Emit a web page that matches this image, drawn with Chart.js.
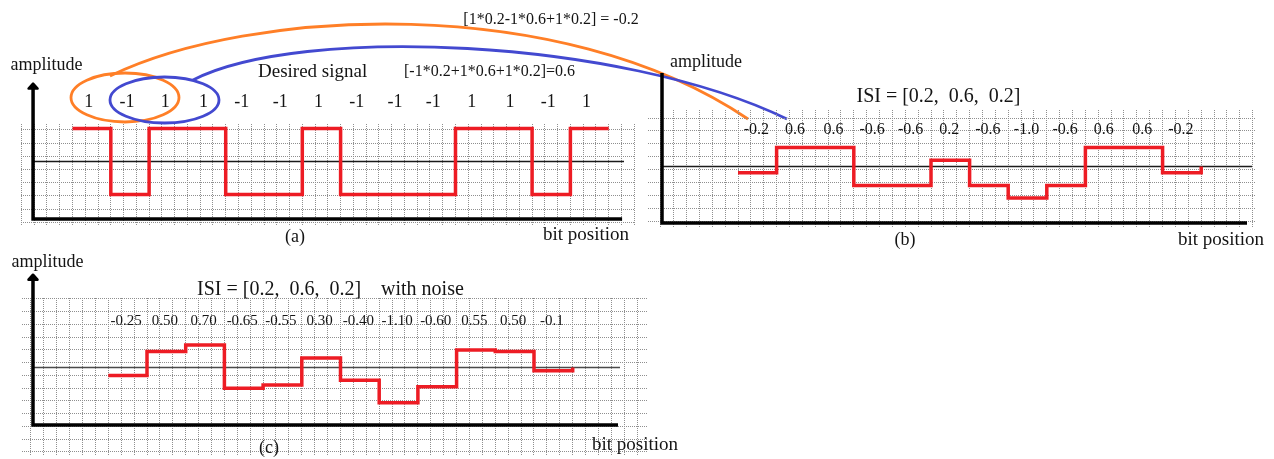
<!DOCTYPE html>
<html>
<head>
<meta charset="utf-8">
<title>ISI example</title>
<script src="https://cdn.jsdelivr.net/npm/chart.js@4.4.1/dist/chart.umd.min.js"></script>
<style>
  html, body { margin: 0; padding: 0; background: #fff; }
  #wrap { position: relative; width: 1274px; height: 459px; overflow: hidden; }
  #wrap canvas { position: absolute; left: 0; top: 0; }
</style>
</head>
<body>
<div id="wrap">
  <canvas id="chart-a" width="1274" height="459"></canvas>
  <canvas id="chart-b" width="1274" height="459"></canvas>
  <canvas id="chart-c" width="1274" height="459"></canvas>
</div>
<script>
// Values
const desiredBits = [1, -1, 1, 1, -1, -1, 1, -1, -1, -1, 1, 1, -1, 1];
const desiredLabels = ['1', '-1', '1', '1', '-1', '-1', '1', '-1', '-1', '-1', '1', '1', '-1', '1'];
const desiredEnd = 1;

const isiTaps = [0.2, 0.6, 0.2];
const isiValues = [-0.2, 0.6, 0.6, -0.6, -0.6, 0.2, -0.6, -1.0, -0.6, 0.6, 0.6, -0.2];
const isiLabels = ['-0.2', '0.6', '0.6', '-0.6', '-0.6', '0.2', '-0.6', '-1.0', '-0.6', '0.6', '0.6', '-0.2'];
const isiEnd = 0;

const noisyValues = [-0.25, 0.50, 0.70, -0.65, -0.55, 0.30, -0.40, -1.10, -0.60, 0.55, 0.50, -0.1];
const noisyLabels = ['-0.25', '0.50', '0.70', '-0.65', '-0.55', '0.30', '-0.40', '-1.10', '-0.60', '0.55', '0.50', '-0.1'];
const noisyEnd = 0;

const eqMinus = '[1*0.2-1*0.6+1*0.2] = -0.2';
const eqPlus = '[-1*0.2+1*0.6+1*0.2]=0.6';

const RED = '#ed1c24';
const GRID = '#8f8f8f';
const INK = '#141414';
const FONT = '"Liberation Serif", "Times New Roman", serif';

const isiTitle = 'ISI = [' + isiTaps.map(v => v.toFixed(1)).join(',  ') + ']';

// one step point per bit, plus the closing point
function stepPoints(values, endValue) {
    const pts = values.map((v, i) => ({ x: i, y: v }));
    pts.push({ x: values.length, y: endValue });
    return pts;
}

function gridTicks(min, max, start, step) {
    const out = [];
    for (let v = start; v >= min - 1e-9; v -= step) {
        if (v <= max + 1e-9) out.push(v);
    }
    return out;
}

const panels = [
    {
        id: 'chart-a',
        values: desiredBits, labels: desiredLabels, end: desiredEnd,
        area: { left: 21, top: 124, right: 635, bottom: 226 },
        x: { min: -1.345, max: 14.687 },
        y: { min: -1.955, max: 1.136, gridStart: 0.955, gridStep: 0.4 },
        axis: { x0: -1.03, y0: -1.74, x1: 14.35, y1: 2.36, arrow: true },
        zero: { from: -1.03, to: 14.4, color: '#1a1a1a' },
        label: { y: 102, size: 18, shift: -3 },
        texts: [
            ['amplitude', 46.5, 65, 18, 'center'],
            ['Desired signal', 258, 72, 19, 'left'],
            [eqPlus, 489.5, 72, 16, 'center'],
            [eqMinus, 551, 20, 16, 'center'],
            ['(a)', 295, 237, 18, 'center'],
            ['bit position', 543, 235, 19, 'left']
        ],
        links: true
    },
    {
        id: 'chart-b',
        values: isiValues, labels: isiLabels, end: isiEnd,
        area: { left: 648, top: 110, right: 1256, bottom: 228 },
        x: { min: -2.332, max: 13.42 },
        y: { min: -1.952, max: 1.794, gridStart: 1.54, gridStep: 0.4095 },
        axis: { x0: -1.969, y0: -1.794, x1: 13.187, y1: 2.968, arrow: false },
        zero: { from: -1.969, to: 13.316, color: '#1a1a1a' },
        label: { y: 130, size: 16, shift: -1 },
        texts: [
            ['amplitude', 706, 62, 18, 'center'],
            [isiTitle, 938.5, 96.5, 20, 'center'],
            ['(b)', 905, 240, 18, 'center'],
            ['bit position', 1178, 240, 19, 'left']
        ]
    },
    {
        id: 'chart-c',
        values: noisyValues, labels: noisyLabels, end: noisyEnd,
        area: { left: 22, top: 298, right: 647, bottom: 455 },
        x: { min: -2.23, max: 13.92 },
        y: { min: -2.734, max: 2.172, gridStart: 2.141, gridStep: 0.398 },
        axis: { x0: -1.946, y0: -1.797, x1: 13.171, y1: 2.9, arrow: true },
        zero: { from: -1.946, to: 13.222, color: '#4a4a4a' },
        label: { y: 321, size: 15, shift: -1.5 },
        texts: [
            ['amplitude', 47.5, 262, 18, 'center'],
            [isiTitle + '    with noise', 197, 290, 20, 'left'],
            ['(c)', 269, 448, 18, 'center'],
            ['bit position', 592, 445, 19, 'left']
        ]
    }
];

// ellipses round the bit groups and the curves to the ISI values
const links = [
    { color: '#ff7f27', ellipse: [125, 97.5, 54, 24.5], curve: [[110, 76], [250, 8], [560, -8], [748, 119]] },
    { color: '#4349d0', ellipse: [164.5, 100, 54.5, 23], curve: [[193, 80], [300, 25], [620, 38], [787, 119]] }
];

function makeDecor(p) {
    return {
        id: 'decor-' + p.id,
        afterDatasetsDraw(chart) {
            const ctx = chart.ctx;
            const xs = chart.scales.x;
            const ys = chart.scales.y;
            ctx.save();

            // thick axes
            const ax = xs.getPixelForValue(p.axis.x0);
            const ay = ys.getPixelForValue(p.axis.y0);
            const top = ys.getPixelForValue(p.axis.y1);
            const right = xs.getPixelForValue(p.axis.x1);
            ctx.strokeStyle = '#000';
            ctx.fillStyle = '#000';
            ctx.lineWidth = 3.5;
            ctx.lineCap = 'butt';
            ctx.beginPath();
            ctx.moveTo(ax, ay + 1.75);
            ctx.lineTo(ax, top + (p.axis.arrow ? 3 : 0));
            ctx.moveTo(ax - 1.75, ay);
            ctx.lineTo(right, ay);
            ctx.stroke();
            if (p.axis.arrow) {
                ctx.lineJoin = 'round';
                ctx.lineWidth = 2.5;
                ctx.beginPath();
                ctx.moveTo(ax - 4.5, top + 5);
                ctx.lineTo(ax, top);
                ctx.lineTo(ax + 4.5, top + 5);
                ctx.closePath();
                ctx.fill();
                ctx.stroke();
            }

            // value labels over each bit
            ctx.fillStyle = INK;
            ctx.textAlign = 'center';
            ctx.textBaseline = 'middle';
            ctx.font = p.label.size + 'px ' + FONT;
            p.labels.forEach((t, i) => {
                ctx.fillText(t, xs.getPixelForValue(i + 0.5) + p.label.shift, p.label.y);
            });

            // other texts
            p.texts.forEach(([t, x, y, size, align]) => {
                ctx.font = size + 'px ' + FONT;
                ctx.textAlign = align;
                ctx.fillText(t, x, y);
            });

            if (p.links) {
                ctx.lineWidth = 2.8;
                links.forEach(l => {
                    ctx.strokeStyle = l.color;
                    const [cx, cy, rx, ry] = l.ellipse;
                    ctx.beginPath();
                    ctx.ellipse(cx, cy, rx, ry, 0, 0, Math.PI * 2);
                    ctx.stroke();
                    const c = l.curve;
                    ctx.beginPath();
                    ctx.moveTo(c[0][0], c[0][1]);
                    ctx.bezierCurveTo(c[1][0], c[1][1], c[2][0], c[2][1], c[3][0], c[3][1]);
                    ctx.stroke();
                });
            }
            ctx.restore();
        }
    };
}

const charts = panels.map(p => {
    const a = p.area;
    const xTicks = [];
    for (let k = Math.ceil(p.x.min * 3); k <= Math.floor(p.x.max * 3); k++) xTicks.push(k / 3);
    const yTicks = gridTicks(p.y.min, p.y.max, p.y.gridStart, p.y.gridStep);

    const axisOpts = (min, max, ticks) => ({
        type: 'linear',
        min: min,
        max: max,
        ticks: { display: false },
        grid: { color: GRID, lineWidth: 1, drawTicks: false },
        border: { display: false, dash: [1, 1] },
        afterBuildTicks: scale => { scale.ticks = ticks.map(v => ({ value: v })); }
    });

    return new Chart(document.getElementById(p.id), {
        type: 'line',
        data: {
            datasets: [
                {
                    data: stepPoints(p.values, p.end),
                    stepped: 'before',
                    borderColor: RED,
                    borderWidth: 3.5,
                    borderJoinStyle: 'miter',
                    pointRadius: 0,
                    fill: false,
                    order: 0
                },
                {
                    data: [{ x: p.zero.from, y: 0 }, { x: p.zero.to, y: 0 }],
                    borderColor: p.zero.color,
                    borderWidth: 1.4,
                    pointRadius: 0,
                    fill: false,
                    order: 1
                }
            ]
        },
        options: {
            responsive: false,
            animation: false,
            devicePixelRatio: 1,
            events: [],
            layout: { padding: { left: a.left, top: a.top, right: 1274 - a.right, bottom: 459 - a.bottom } },
            plugins: { legend: { display: false }, tooltip: { enabled: false } },
            scales: {
                x: axisOpts(p.x.min, p.x.max, xTicks),
                y: axisOpts(p.y.min, p.y.max, yTicks)
            }
        },
        plugins: [makeDecor(p)]
    });
});
</script>
</body>
</html>
